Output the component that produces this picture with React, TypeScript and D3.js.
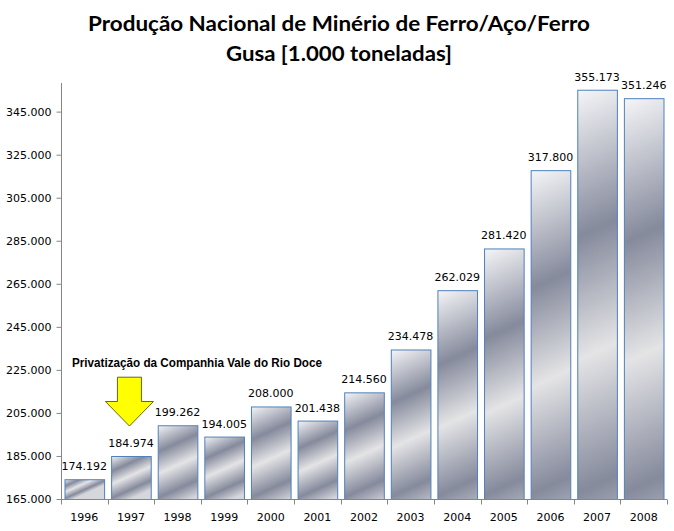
import React, { useEffect, useRef } from "react";
import * as d3 from "d3";

const years = ["1996", "1997", "1998", "1999", "2000", "2001", "2002", "2003", "2004", "2005", "2006", "2007", "2008"];
const production = [174192, 184974, 199262, 194005, 208000, 201438, 214560, 234478, 262029, 281420, 317800, 355173, 351246];
const yTicks = [165000, 185000, 205000, 225000, 245000, 265000, 285000, 305000, 325000, 345000];
const titleLines = ["Produção Nacional de Minério de Ferro/Aço/Ferro", "Gusa [1.000 toneladas]"];
const noteText = "Privatização da Companhia Vale do Rio Doce";
const noteYear = "1997";

const fmt = (v: number) => d3.format(",")(v).replace(/,/g, ".");

export default function App() {
  const ref = useRef<SVGSVGElement>(null);

  useEffect(() => {
    document.body.style.margin = "0";
    const width = 674;
    const height = 531;
    const margin = { top: 83, right: 7, bottom: 32, left: 61 };

    const svg = d3.select(ref.current);
    svg.selectAll("*").remove();
    svg.attr("width", width).attr("height", height);

    const x = d3.scaleBand()
      .domain(years)
      .range([margin.left, width - margin.right])
      .paddingInner(0.15)
      .paddingOuter(0.075);

    const y = d3.scaleLinear()
      .domain([165000, 358300])
      .range([height - margin.bottom, margin.top]);

    const defs = svg.append("defs");
    const data = years.map((year, i) => ({ year, value: production[i] }));

    // silver gradient, one per bar so the stripes scale with the bar height
    data.forEach((d, i) => {
      const x0 = x(d.year)!;
      const top = y(d.value);
      const h = y(165000) - top;
      const g = defs.append("linearGradient")
        .attr("id", `silver${i}`)
        .attr("gradientUnits", "userSpaceOnUse")
        .attr("x1", x0).attr("y1", top)
        .attr("x2", x0 + h * 0.45).attr("y2", top + h);
      [[0, "#f6f6f8"], [0.3, "#858a9c"], [0.55, "#e4e4e6"], [0.82, "#858a9c"], [1, "#d6d7dc"]]
        .forEach(([o, c]) => g.append("stop").attr("offset", o as number).attr("stop-color", c as string));
    });

    // title
    titleLines.forEach((t, i) => {
      svg.append("text")
        .attr("x", 339)
        .attr("y", 31 + i * 30)
        .attr("text-anchor", "middle")
        .attr("font-family", "Lato, 'Open Sans', sans-serif")
        .attr("font-weight", "bold")
        .attr("font-size", 21)
        .attr("textLength", i === 0 ? 502 : 226)
        .attr("lengthAdjust", "spacingAndGlyphs")
        .attr("fill", "#000")
        .text(t);
    });

    // bars
    svg.selectAll("rect.bar")
      .data(data)
      .enter()
      .append("rect")
      .attr("class", "bar")
      .attr("x", d => x(d.year)! + 0.5)
      .attr("y", d => y(d.value) + 0.5)
      .attr("width", x.bandwidth())
      .attr("height", d => y(165000) - y(d.value))
      .attr("fill", (d, i) => `url(#silver${i})`)
      .attr("stroke", "#4f81bd")
      .attr("stroke-width", 1);

    // value labels
    svg.selectAll("text.val")
      .data(data)
      .enter()
      .append("text")
      .attr("class", "val")
      .attr("x", d => x(d.year)! + x.bandwidth() / 2)
      .attr("y", d => y(d.value) - 9)
      .attr("text-anchor", "middle")
      .attr("font-family", "'DejaVu Sans', sans-serif")
      .attr("font-size", 11)
      .attr("fill", "#000")
      .text(d => fmt(d.value));

    // y axis
    const yAxis = svg.append("g")
      .attr("transform", `translate(${margin.left + 0.5},0)`)
      .call(d3.axisLeft(y).tickValues(yTicks).tickSize(5).tickPadding(5).tickFormat(d => fmt(d as number)));
    yAxis.select(".domain").attr("stroke", "#868686").attr("d", `M0,${height - margin.bottom}V${margin.top}`);
    yAxis.selectAll(".tick line").attr("stroke", "#868686");
    yAxis.selectAll(".tick text")
      .attr("font-family", "'DejaVu Sans', sans-serif")
      .attr("font-size", 11)
      .attr("fill", "#000");

    // x axis
    const base = y(165000);
    const xAxis = svg.append("g").attr("transform", `translate(0,${base + 0.5})`);
    xAxis.append("line")
      .attr("x1", margin.left).attr("x2", width - margin.right)
      .attr("stroke", "#868686");
    const step = x.step();
    const bounds = d3.range(years.length + 1).map(i => margin.left + i * step);
    xAxis.selectAll("line.tk")
      .data(bounds)
      .enter()
      .append("line")
      .attr("class", "tk")
      .attr("x1", d => Math.round(d) + 0.5).attr("x2", d => Math.round(d) + 0.5)
      .attr("y1", 0).attr("y2", 5)
      .attr("stroke", "#868686");
    xAxis.selectAll("text")
      .data(years)
      .enter()
      .append("text")
      .attr("x", d => x(d)! + x.bandwidth() / 2)
      .attr("y", 21)
      .attr("text-anchor", "middle")
      .attr("font-family", "'DejaVu Sans', sans-serif")
      .attr("font-size", 11)
      .attr("fill", "#000")
      .text(d => d);

    // annotation: arrow pointing at the privatisation year
    const cx = x(noteYear)! + x.bandwidth() / 2 - 1.5;
    const tipY = y(198900);
    const arrow = d3.path();
    arrow.moveTo(cx - 12, y(221600));
    arrow.lineTo(cx + 12, y(221600));
    arrow.lineTo(cx + 12, y(210300));
    arrow.lineTo(cx + 24, y(210300));
    arrow.lineTo(cx, tipY);
    arrow.lineTo(cx - 24, y(210300));
    arrow.lineTo(cx - 12, y(210300));
    arrow.closePath();
    svg.append("path")
      .attr("d", arrow.toString())
      .attr("fill", "#ffff00")
      .attr("stroke", "#404000")
      .attr("stroke-width", 0.8);

    svg.append("text")
      .attr("x", 72)
      .attr("y", 367)
      .attr("font-family", "'Liberation Sans', Arial, sans-serif")
      .attr("font-weight", "bold")
      .attr("font-size", 12)
      .attr("textLength", 250)
      .attr("lengthAdjust", "spacingAndGlyphs")
      .attr("fill", "#000")
      .text(noteText);
  }, []);

  return (
    <div style={{ width: 674, height: 531, background: "#fff" }}>
      <svg ref={ref} style={{ display: "block" }}></svg>
    </div>
  );
}
